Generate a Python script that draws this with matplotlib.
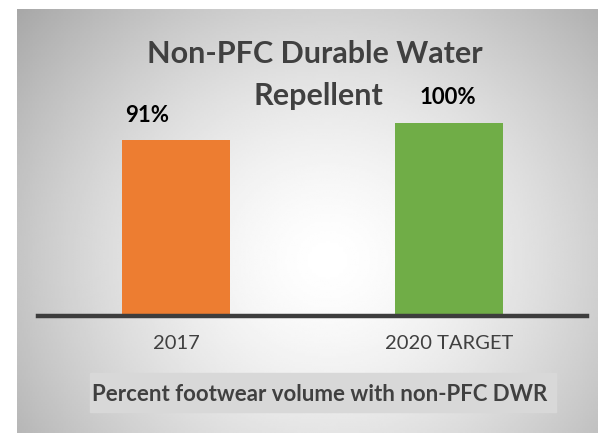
import matplotlib.pyplot as plt
import numpy as np

categories = ["2017", "2020 TARGET"]
values = [91, 100]
value_labels = ["91%", "100%"]
bar_colors = ["#ED7D31", "#70AD47"]

plt.rcParams["font.family"] = ["Lato", "DejaVu Sans"]

W, H = 598, 433
fig = plt.figure(figsize=(W / 100, H / 100), dpi=100)
fig.patch.set_facecolor("white")

# radial gradient panel
bg = fig.add_axes([17 / W, 0, (W - 17) / W, (H - 9) / H])
yy, xx = np.mgrid[0:200, 0:300]
cx, cy = 160, 118
r = np.sqrt(((xx - cx) / 175.0) ** 2 + ((yy - cy) / 150.0) ** 2)
shade = 1.0 - 0.26 * np.clip(r, 0, 1.3) ** 1.5
bg.imshow(shade, cmap="gray", vmin=0, vmax=1, aspect="auto",
          extent=[0, 1, 0, 1], interpolation="bilinear")
bg.axis("off")

ax = fig.add_axes([38 / W, (H - 315.5) / H, 549 / W, 290 / H])
ax.patch.set_alpha(0)
x = np.arange(len(categories))
bars = ax.bar(x, values, width=0.395, color=bar_colors)
ax.set_xlim(-0.505, 1.505)
ax.set_ylim(0, 150.6)

for b, lab, dx in zip(bars, value_labels, [-21, -1]):
    ax.annotate(lab, (b.get_x() + b.get_width() / 2, b.get_height()),
                xytext=(dx, 13.5), textcoords="offset points", ha="center",
                va="baseline", fontsize=16, fontweight="bold", color="black")

for s in ["top", "left", "right"]:
    ax.spines[s].set_visible(False)
ax.spines["bottom"].set_linewidth(3.2)
ax.spines["bottom"].set_color("#3d3d3d")
ax.set_yticks([])
ax.set_xticks(x)
ax.set_xticklabels(categories, fontsize=14.5, color="#404040")
ax.tick_params(axis="x", length=0, pad=14)

fig.text(315 / W, 1 - 63 / H, "Non-PFC Durable Water", ha="center", va="baseline",
         fontsize=22, fontweight="bold", color="#404040")
fig.text(318 / W, 1 - 105 / H, "Repellent", ha="center", va="baseline",
         fontsize=22, fontweight="bold", color="#404040")

fig.patches.append(plt.Rectangle((90 / W, (H - 412) / H), 466 / W, 39 / H,
                                 transform=fig.transFigure, color="#d8d8d8", zorder=1))
fig.text(320 / W, 1 - 401 / H, "Percent footwear volume with non-PFC DWR",
         ha="center", va="baseline", fontsize=16, fontweight="bold", color="#404040")

fig.savefig("out.png", dpi=100)
